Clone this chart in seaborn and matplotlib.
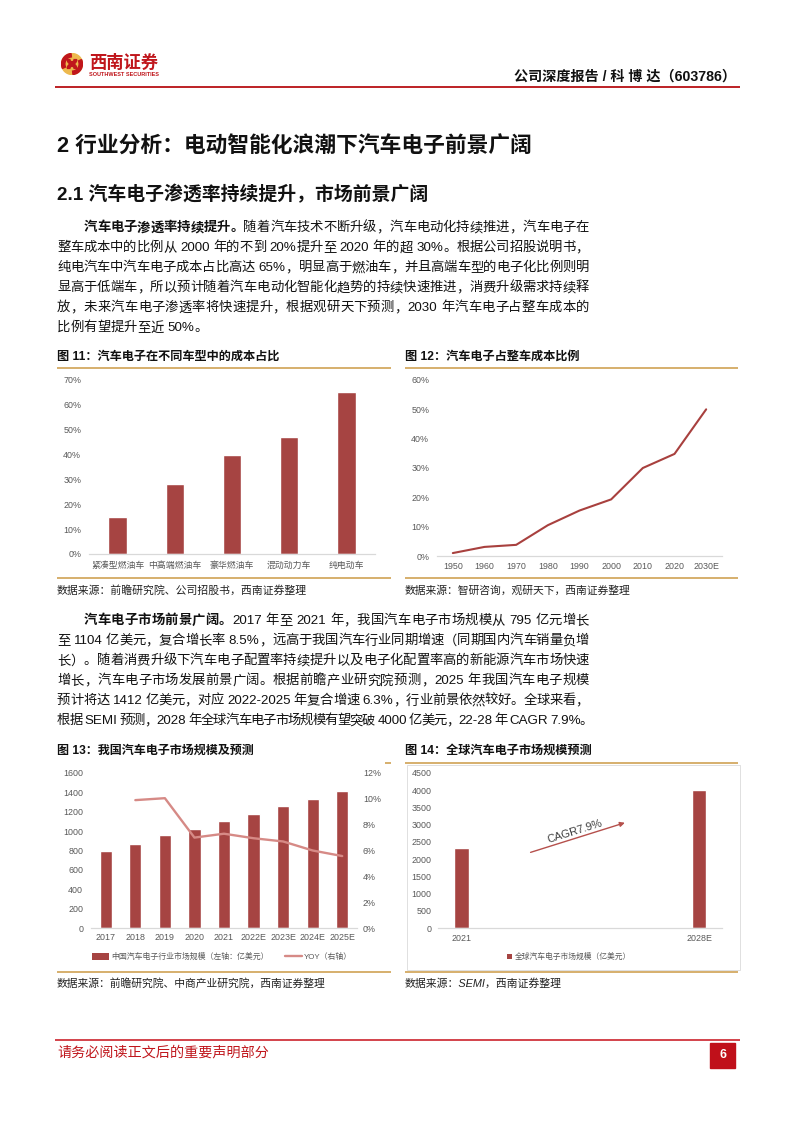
import re
import numpy as np
import pandas as pd
import matplotlib
matplotlib.use('Agg')
import matplotlib.pyplot as plt
import matplotlib.patches as mpatches
from matplotlib.lines import Line2D
from matplotlib.ticker import PercentFormatter, MultipleLocator
import seaborn as sns

# ---------------- data ----------------
car_types = ['紧凑型燃油车', '中高端燃油车', '豪华燃油车', '混动动力车', '纯电动车']
car_share = [0.15, 0.28, 0.40, 0.47, 0.65]

era_years = ['1950', '1960', '1970', '1980', '1990', '2000', '2010', '2020', '2030E']
era_share = [0.010, 0.031, 0.038, 0.105, 0.155, 0.193, 0.300, 0.348, 0.500]

cn_years = ['2017', '2018', '2019', '2020', '2021', '2022E', '2023E', '2024E', '2025E']
cn_size = [795, 870, 958, 1025, 1104, 1176, 1255, 1334, 1412]
yoy_years = ['2018', '2019', '2020', '2021', '2022E', '2023E', '2024E', '2025E']
yoy_rate = [0.099, 0.1005, 0.070, 0.073, 0.0695, 0.067, 0.060, 0.0557]

gl_years = ['2021', '2028E']
gl_size = [2330, 4000]

# ---------------- style ----------------
sns.set_style('white')
FAM = ['Liberation Sans', 'Noto Sans CJK SC']
plt.rcParams['font.family'] = FAM

BAR = '#A64442'
LINE12 = '#A8403E'
LINE13 = '#D68A86'
GOLD = '#CC9A45'
RED = '#C0161C'
TICK = '#595959'
TFS = 6.4

W, H = 794, 1123
fig = plt.figure(figsize=(W / 100, H / 100), dpi=100)
fig.patch.set_facecolor('white')
renderer = fig.canvas.get_renderer()


def fx(x):
    return x / W


def fy(y):
    return 1 - y / H


def rect(x0, y0, x1, y1):
    return [x0 / W, 1 - y1 / H, (x1 - x0) / W, (y1 - y0) / H]


def hline(x0, x1, y, color, lw):
    fig.add_artist(Line2D([fx(x0), fx(x1)], [fy(y), fy(y)], transform=fig.transFigure,
                          color=color, lw=lw, solid_capstyle='butt'))


def fit_text(x0, x1, y, s, fs0=10, **kw):
    t = fig.text(fx(x0), fy(y), s, fontsize=fs0, va='center', ha='left', **kw)
    w = t.get_window_extent(renderer).width
    t.set_fontsize(fs0 * (x1 - x0) / w)
    return t


TOK = re.compile(r"[A-Za-z0-9%.\-]+| |.")


def body_line(segs, x0, y, fs=9.6, x1=None, color='#111111'):
    items = []
    for s, wt in segs:
        for t in TOK.findall(s):
            items.append((t, wt))
    objs, widths = [], []
    sp = fs * 100 / 72 * 0.28
    for t, wt in items:
        if t == ' ':
            objs.append(None)
            widths.append(sp)
            continue
        o = fig.text(0, fy(y), t, fontsize=fs, fontweight=wt, color=color, va='center', ha='left')
        objs.append(o)
        widths.append(o.get_window_extent(renderer).width)
    gap = 0.0
    if x1 is not None and len(items) > 1:
        gap = (x1 - x0 - sum(widths)) / (len(items) - 1)
    x = x0
    for o, wd in zip(objs, widths):
        if o is not None:
            o.set_x(fx(x))
        x += wd + gap


def style_axes(ax, xpad, ypad, fs=TFS):
    for s in ['top', 'right', 'left']:
        ax.spines[s].set_visible(False)
    ax.spines['bottom'].set_color('#D9D9D9')
    ax.spines['bottom'].set_linewidth(0.9)
    ax.tick_params(axis='both', length=0, labelsize=fs, colors=TICK)
    ax.tick_params(axis='x', pad=xpad)
    ax.tick_params(axis='y', pad=ypad)
    ax.set_xlabel('')
    ax.set_ylabel('')
    ax.grid(False)
    ax.set_facecolor('none')


# ---------------- header ----------------
axl = fig.add_axes(rect(61, 53, 83, 75))
axl.set_xlim(-1.05, 1.05)
axl.set_ylim(-1.05, 1.05)
axl.set_aspect('equal')
axl.axis('off')
axl.add_patch(mpatches.Circle((0, 0), 1, color='#EDB94E'))
axl.add_patch(mpatches.Wedge((0, 0), 1, 95, 205, width=0.32, color=RED))
axl.add_patch(mpatches.Wedge((0, 0), 1, 275, 25, width=0.32, color=RED))
axl.add_patch(mpatches.Wedge((0, 0.42), 0.45, 180, 360, width=0.25, color=RED))
axl.add_patch(mpatches.Wedge((0, -0.42), 0.45, 0, 180, width=0.25, color=RED))

fit_text(89, 158, 62, '西南证券', color=RED, fontweight='bold')
fit_text(89, 158, 74.5, 'SOUTHWEST SECURITIES', color=RED, fontweight='bold')
fit_text(514, 736, 77, '公司深度报告 / 科 博 达（603786）', color='#111111', fontweight='bold')
hline(55, 740, 87, '#B80F14', 1.3)

# ---------------- section titles ----------------
fit_text(57, 531, 147, '2 行业分析：电动智能化浪潮下汽车电子前景广阔', fontweight='bold', color='#111111')
fit_text(57, 428, 195, '2.1 汽车电子渗透率持续提升，市场前景广阔', fontweight='bold', color='#111111')

# ---------------- paragraph 1 ----------------
R = 589
p1 = [
    ([('汽车电子渗透率持续提升。', 'bold'), ('随着汽车技术不断升级，汽车电动化持续推进，汽车电子在', 'normal')], 84, R),
    ([('整车成本中的比例从 2000 年的不到 20%提升至 2020 年的超 30%。根据公司招股说明书，', 'normal')], 57, R),
    ([('纯电汽车中汽车电子成本占比高达 65%，明显高于燃油车，并且高端车型的电子化比例则明', 'normal')], 57, R),
    ([('显高于低端车，所以预计随着汽车电动化智能化趋势的持续快速推进，消费升级需求持续释', 'normal')], 57, R),
    ([('放，未来汽车电子渗透率将快速提升，根据观研天下预测，2030 年汽车电子占整车成本的', 'normal')], 57, R),
    ([('比例有望提升至近 50%。', 'normal')], 57, None),
]
for i, (segs, x0, x1) in enumerate(p1):
    body_line(segs, x0, 228 + 20 * i, x1=x1)

# ---------------- paragraph 2 ----------------
p2 = [
    ([('汽车电子市场前景广阔。', 'bold'), ('2017 年至 2021 年，我国汽车电子市场规模从 795 亿元增长', 'normal')], 84, R),
    ([('至 1104 亿美元，复合增长率 8.5%，远高于我国汽车行业同期增速（同期国内汽车销量负增', 'normal')], 57, R),
    ([('长）。随着消费升级下汽车电子配置率持续提升以及电子化配置率高的新能源汽车市场快速', 'normal')], 57, R),
    ([('增长，汽车电子市场发展前景广阔。根据前瞻产业研究院预测，2025 年我国汽车电子规模', 'normal')], 57, R),
    ([('预计将达 1412 亿美元，对应 2022-2025 年复合增速 6.3%，行业前景依然较好。全球来看，', 'normal')], 57, R),
    ([('根据 SEMI 预测，2028 年全球汽车电子市场规模有望突破 4000 亿美元，22-28 年 CAGR 7.9%。', 'normal')], 57, 593),
]
for i, (segs, x0, x1) in enumerate(p2):
    body_line(segs, x0, 621 + 20 * i, x1=x1)

# ---------------- figure titles / rules / sources ----------------
fit_text(57, 280, 357, '图 11：汽车电子在不同车型中的成本占比', fontweight='bold', color='#111111')
fit_text(405, 580, 357, '图 12：汽车电子占整车成本比例', fontweight='bold', color='#111111')
fit_text(57, 254, 751, '图 13：我国汽车电子市场规模及预测', fontweight='bold', color='#111111')
fit_text(405, 592, 751, '图 14：全球汽车电子市场规模预测', fontweight='bold', color='#111111')

hline(57, 391, 368, GOLD, 1.1)
hline(405, 738, 368, GOLD, 1.1)
hline(57, 391, 578, GOLD, 1.1)
hline(405, 738, 578, GOLD, 1.1)
hline(385, 391, 762.7, GOLD, 1.1)
hline(405, 738, 762.7, GOLD, 1.1)
hline(57, 391, 971.5, GOLD, 1.1)
hline(405, 738, 971.5, GOLD, 1.1)

fit_text(57, 307, 590, '数据来源：前瞻研究院、公司招股书，西南证券整理', style='italic', color='#222222')
fit_text(405, 632, 590, '数据来源：智研咨询，观研天下，西南证券整理', style='italic', color='#222222')
fit_text(57, 327, 983, '数据来源：前瞻研究院、中商产业研究院，西南证券整理', style='italic', color='#222222')
fit_text(405, 562, 983, '数据来源：SEMI，西南证券整理', style='italic', color='#222222')

# ---------------- chart 11 ----------------
ax1 = fig.add_axes(rect(89, 380, 375, 554))
df11 = pd.DataFrame({'type': car_types, 'share': car_share})
sns.barplot(data=df11, x='type', y='share', color=BAR, width=0.32, saturation=1, ax=ax1)
ax1.set_ylim(0, 0.7)
ax1.yaxis.set_major_locator(MultipleLocator(0.1))
ax1.yaxis.set_major_formatter(PercentFormatter(1.0, decimals=0))
ax1.set_xlim(-0.5, 4.5)
style_axes(ax1, xpad=5.0, ypad=5.6)

# ---------------- chart 12 ----------------
ax2 = fig.add_axes(rect(437, 380, 722, 556))
df12 = pd.DataFrame({'year': era_years, 'share': era_share})
sns.lineplot(data=df12, x='year', y='share', sort=False, color=LINE12, lw=1.5, ax=ax2)
ax2.set_xlim(-0.5, 8.5)
ax2.set_ylim(0, 0.6)
ax2.yaxis.set_major_locator(MultipleLocator(0.1))
ax2.yaxis.set_major_formatter(PercentFormatter(1.0, decimals=0))
style_axes(ax2, xpad=4.1, ypad=5.6)

# ---------------- chart 13 ----------------
ax3 = fig.add_axes(rect(91, 773, 357, 928))
df13 = pd.DataFrame({'year': cn_years, 'size': cn_size})
sns.barplot(data=df13, x='year', y='size', color=BAR, width=0.41, saturation=1, ax=ax3)
ax3.set_ylim(0, 1600)
ax3.yaxis.set_major_locator(MultipleLocator(200))
style_axes(ax3, xpad=3.6, ypad=5.6)
ax3b = ax3.twinx()
yoy_pos = [cn_years.index(y) for y in yoy_years]
sns.lineplot(x=yoy_pos, y=yoy_rate, color=LINE13, lw=1.7, ax=ax3b)
ax3b.set_ylim(0, 0.12)
ax3b.yaxis.set_major_locator(MultipleLocator(0.02))
ax3b.yaxis.set_major_formatter(PercentFormatter(1.0, decimals=0))
for s in ax3b.spines.values():
    s.set_visible(False)
ax3b.tick_params(axis='y', length=0, labelsize=TFS, colors=TICK, pad=4.3)
ax3b.set_ylabel('')
ax3b.grid(False)
ax3.set_xlim(-0.5, 8.5)

h13 = [mpatches.Patch(facecolor=BAR, edgecolor='none'),
       Line2D([], [], color=LINE13, lw=1.7)]
leg13 = fig.legend(h13, ['中国汽车电子行业市场规模（左轴：亿美元）', 'YOY（右轴）'],
                   loc='center', bbox_to_anchor=(fx(222), fy(957)), ncol=2, frameon=False,
                   fontsize=5.7, handlelength=2.1, handleheight=0.9, handletextpad=0.3,
                   columnspacing=2.1, borderpad=0)
for t in leg13.get_texts():
    t.set_color(TICK)

# ---------------- chart 14 ----------------
fig.add_artist(mpatches.Rectangle((fx(407), fy(970)), (740 - 407) / W, (970 - 765) / H,
                                  transform=fig.transFigure, fill=False, ec='#DADADA', lw=0.6))
ax4 = fig.add_axes(rect(438, 773, 722, 928))
df14 = pd.DataFrame({'year': gl_years, 'size': gl_size})
sns.barplot(data=df14, x='year', y='size', color=BAR, width=0.063, saturation=1, ax=ax4)
ax4.set_xlim(-0.1, 1.097)
ax4.set_ylim(0, 4500)
ax4.yaxis.set_major_locator(MultipleLocator(500))
style_axes(ax4, xpad=4.1, ypad=4.8)
ax4.annotate('', xy=(0.658, 0.679), xytext=(0.326, 0.488), xycoords='axes fraction',
             textcoords='axes fraction',
             arrowprops=dict(arrowstyle='-|>', color='#B5504C', lw=1.0, mutation_scale=7,
                             shrinkA=0, shrinkB=0))
ax4.text(0.482, 0.625, 'CAGR7.9%', transform=ax4.transAxes, rotation=17.5,
         rotation_mode='anchor', ha='center', va='center', fontsize=8, color='#404040')

h14 = [mpatches.Patch(facecolor=BAR, edgecolor='none')]
leg14 = fig.legend(h14, ['全球汽车电子市场规模（亿美元）'], loc='center',
                   bbox_to_anchor=(fx(569), fy(957)), frameon=False, fontsize=5.6,
                   handlelength=0.6, handleheight=0.6, handletextpad=0.4, borderpad=0)
for t in leg14.get_texts():
    t.set_color(TICK)

# ---------------- footer ----------------
hline(55, 740, 1040, '#C8101A', 1.1)
fit_text(57, 268, 1052, '请务必阅读正文后的重要声明部分', color=RED)
fig.add_artist(mpatches.Rectangle((fx(710), fy(1068)), 25 / W, 25 / H,
                                  transform=fig.transFigure, color='#C0101A'))
fig.text(fx(722.5), fy(1055.5), '6', color='white', fontsize=9, fontweight='bold',
         ha='center', va='center')

fig.savefig('out.png', dpi=100, facecolor='white')
